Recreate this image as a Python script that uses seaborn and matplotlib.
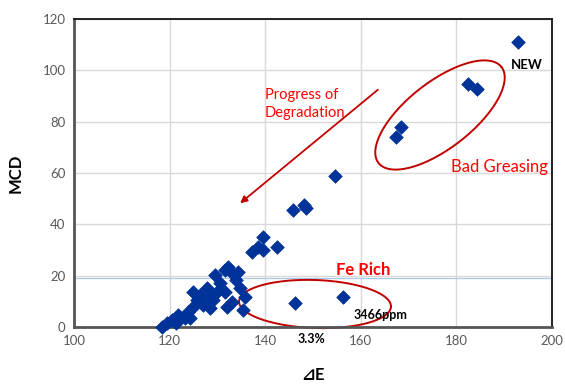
import numpy as np
import pandas as pd
import matplotlib
matplotlib.use("Agg")
import matplotlib.pyplot as plt
import seaborn as sns

# ---- data ----
delta_e = [118.4, 119.5, 120.5, 121.3, 121.8, 123.2, 123.8, 124.9, 124.9, 125.7,
           126.4, 127.0, 127.8, 128.5, 129.9, 128.5, 129.5, 131.6, 132.2, 133.1,
           134.3, 131.6, 133.1, 132.0, 134.7, 135.8, 135.4, 137.2, 138.5, 139.5,
           139.5, 142.5, 145.8, 148.1, 148.5, 154.6, 146.2, 156.3, 167.4, 168.4,
           182.4, 184.3, 192.9, 130.5, 133.9, 129.1, 124.3]
mcd = [0.0, 1.6, 2.7, 1.6, 4.7, 3.5, 5.8, 7.8, 13.6, 10.5,
       12.5, 8.6, 15.2, 11.3, 13.6, 7.4, 20.3, 22.2, 23.4, 21.0,
       21.4, 13.6, 9.7, 7.8, 15.2, 11.7, 6.6, 29.2, 31.2, 35.1,
       30.0, 31.2, 45.6, 47.5, 46.4, 58.8, 9.3, 11.7, 74.0, 77.9,
       94.7, 92.7, 111.0, 17.1, 18.3, 10.5, 3.5]
ref_line = 19
x_ticks = [100, 120, 140, 160, 180, 200]
y_ticks = [0, 20, 40, 60, 80, 100, 120]

df = pd.DataFrame({"dE": delta_e, "MCD": mcd})

sns.set_theme(style="white")
plt.rcParams["font.family"] = ["Lato", "DejaVu Sans"]

W, H = 565, 389
fig = plt.figure(figsize=(W / 100, H / 100), dpi=100)
L, R, B, T = 74, 552, 327, 19
ax = fig.add_axes([L / W, 1 - B / H, (R - L) / W, (B - T) / H])

ax.set_xlim(100, 200)
ax.set_ylim(0, 120)
ax.set_xticks(x_ticks)
ax.set_yticks(y_ticks)
ax.grid(True, color="#D9D9D9", lw=1)
ax.set_axisbelow(True)
ax.axhline(ref_line, color="#A9C8E8", lw=0.9, zorder=1)

sns.scatterplot(data=df, x="dE", y="MCD", marker="D", s=48, color="#003399",
                edgecolor="#003399", linewidth=0.5, ax=ax, zorder=3, clip_on=False)

for s in ax.spines.values():
    s.set_color("#222222")
    s.set_linewidth(1.4)
for s in ("left", "bottom"):
    ax.spines[s].set_color("#555555")
    ax.spines[s].set_linewidth(2)

ax.tick_params(axis="both", labelsize=9.5, colors="#595959", length=0, pad=6)
ax.set_xlabel("⊿E", fontsize=12, fontweight="bold", color="black", labelpad=14)
ax.set_ylabel("MCD", fontsize=12, fontweight="bold", color="black", labelpad=14)


def px_to_axes(px, py):
    return (np.asarray(px) - L) / (R - L), (B - np.asarray(py)) / (B - T)


def ellipse(cx, cy, a, b, ang_deg, **kw):
    t = np.linspace(0, 2 * np.pi, 200)
    th = np.deg2rad(ang_deg)
    ex = a * np.cos(t)
    ey = b * np.sin(t)
    px = cx + ex * np.cos(th) - ey * np.sin(th)
    py = cy - (ex * np.sin(th) + ey * np.cos(th))
    u, v = px_to_axes(px, py)
    ax.plot(u, v, transform=ax.transAxes, clip_on=False, **kw)


dark_red = "#C00000"
ellipse(440, 115, 78, 33, 38, color=dark_red, lw=1.4)
ellipse(315, 304, 76, 24, -2, color=dark_red, lw=1.4)

ua, va = px_to_axes(380, 88)
ub, vb = px_to_axes(238, 205)
ax.annotate("", xy=(ub, vb), xytext=(ua, va), xycoords="axes fraction",
            arrowprops=dict(arrowstyle="-|>", color=dark_red, lw=1.3,
                            mutation_scale=10))

red = "#FF0000"


def text_px(px, py, s, **kw):
    u, v = px_to_axes(px, py)
    ax.text(u, v, s, transform=ax.transAxes, clip_on=False, **kw)


text_px(265, 104, "Progress of\nDegradation", color=red, fontsize=10.5,
        ha="left", va="center", linespacing=1.4)
text_px(527, 65, "NEW", color="black", fontsize=9.5, fontweight="bold",
        ha="center", va="center")
text_px(499, 167, "Bad Greasing", color=red, fontsize=12, ha="center",
        va="center")
text_px(363, 270, "Fe Rich", color=red, fontsize=12, fontweight="bold",
        ha="center", va="center")
text_px(380, 315, "3466ppm", color="black", fontsize=9, fontweight="bold",
        ha="center", va="center")
text_px(311, 339, "3.3%", color="black", fontsize=9, fontweight="bold",
        ha="center", va="center")

fig.savefig("out.png", dpi=100)
